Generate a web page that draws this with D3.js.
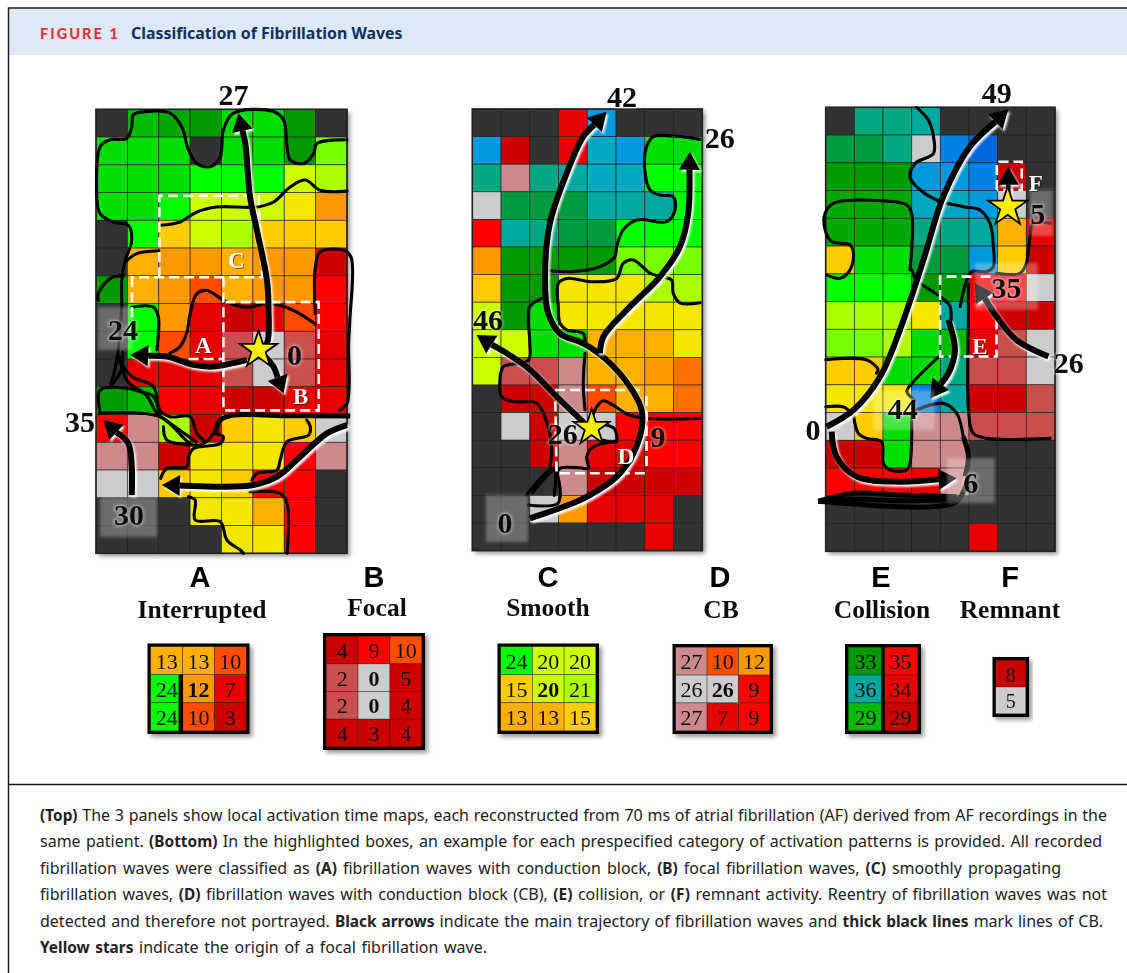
<!DOCTYPE html>
<html><head><meta charset="utf-8">
<script src="https://cdn.jsdelivr.net/npm/d3@7/dist/d3.min.js"></script>
<style>html,body{margin:0;padding:0;background:#fff;overflow:hidden}svg{display:block}</style>
</head><body><svg id="c" width="1127" height="973"></svg>
<script>
const palette={k:"#333333",w:"#cccccc",p:"#cc8a8c",q:"#c95050",r:"#cc0000",e:"#e60000",R:"#ff0000",o:"#ff4d00",x:"#ff7000",O:"#ff9900",a:"#ffb000",y:"#ffcc00",Y:"#f5e600",l:"#ccff00",m:"#aaff00",n:"#77ff00",L:"#00ff00",G:"#00dd00",g:"#00bb00",h:"#00a800",d:"#009900",f:"#009a40",t:"#00a880",c:"#00a8a0",s:"#00a8c0",b:"#0099dd",B:"#0080e0",u:"#0066dd"};

// ---- activation maps: colour class per electrode
const map1Cells=["k g h d G G d k","G G G k G G d n","G G G L L L l m","G G L l l l Y O","k L y l m y y y","k a O O a O O r","d a O o a O O R","k L O e r e o R","k L o e q w q e","k e e e q w q e","d g R e r r e e","R p m r y Y y w","p p r Y Y Y R p","w w y Y y R R k","k k k Y Y a R k","k k k k Y Y R k"];
const map2Cells=["k k k e b k k k","b r k e s b G G","t p t c s s L L","w f f f c c c L","R c t f f L L L","O d d d d n n n","y d d Y Y Y m m","l d G Y Y Y Y Y","l l G G a a a Y","l q q p a a O x","k r r p o a a x","k w r w w R R R","k k r p e e R R","k k k p r r r r","k k w O e e e k","k k k k k k e k"];
const map3Cells=["k t t c k k k k","f f t w B u k k","d d d b b B r k","h h h s s b w k","h h h t t c a e","y G G f f b y r","L L L d d e R w","m m m Y c R r r","n n m G g e q w","y y G G t q q w","Y Y Y B c r r q","w y G p p q q q","r r G p p k k k","R R R e p k k k","k k k k k k k k","k k k k k e k k"];

// ---- conduction block lines, in electrode units [column,row]
const map1Lines=[
[[.02,2.8],[.13,1.35],[.45,1.1],[.98,1.05],[1.14,.63],[1.19,.2],[1.62,.08],[2.36,.14],[2.73,.63],[2.95,1.47],[3.21,1.95],[3.64,2.07],[3.96,1.71],[4.06,.75],[4.38,.14],[5.66,.08],[5.98,.39],[6.09,1.35],[6.19,1.83],[6.62,1.95],[6.94,1.59],[7.04,1.23],[8,1.1]],
[[.02,2.8],[.13,3.76],[.55,4.06],[1.03,4.18],[1.14,4.72],[.93,5.45],[.82,6.17],[.82,7.13],[.71,8.67],[.6,9.4],[.45,10]],
[[.07,6.9],[.07,6.65],[.45,6.1],[.87,6]],
[[2.04,4.18],[2.68,4.06],[3.21,3.7],[3.85,3.52],[5.13,3.52],[5.66,3.34],[6.19,2.8],[6.67,2.55],[7.15,2.92],[8,2.95]],
[[.98,5.45],[1.3,5.2],[2,5.1]],
[[6.99,7.37],[6.99,5.69],[7.15,5.14],[7.89,5.08],[8.13,5.33],[8.09,7.6],[8.05,8.43],[8,10.6],[7.75,10.85]],
[[2.36,8.79],[2.68,8.55],[2.89,8.07],[3,7.37],[3.21,6.65],[3.53,6.53],[4.17,6.95],[4.81,7.13],[5.55,7],[6.3,7.25],[7,7.75]],
[[1.14,7.13],[1.83,7.13],[1.99,7.5],[1.99,8.07],[1.94,8.67]],
[[6.72,11.2],[6.83,11.44],[6.78,11.74],[6.09,11.98],[5.87,12.64],[5.77,13],[5.13,13.12],[4.97,13.36]],
[[4.91,13.78],[5.87,13.84],[6.09,14.2],[6.09,16]],
[[2.95,13.96],[3.16,14.08],[3.16,14.8],[3.96,14.86],[4.17,15.52],[4.6,15.88],[4.7,16]],
[[2.06,13.3],[2.26,12.94],[2.89,12.88],[2.95,12.52],[3.1,12.23],[3.96,12.04],[4.06,11.8],[3.8,11.68]],
[[.13,10.95],[2.04,11.08],[3.1,12.1],[3.53,11.97],[3.96,11.2]],
[[.13,10.95],[.13,10.12],[.98,10.05],[1.4,10.17],[1.83,10.35],[2.04,11.08]],
[[.66,8.91],[1.14,9.63],[1.83,9.99],[2.04,10.84],[2.36,11.08],[3,11.08],[3.21,11.67],[3.48,11.97]],
[[.85,8.75],[.8,9.4],[.45,10]],
[[2.15,11.43],[2.26,11.92],[3.1,12.1]],
[[.75,8.9],[1,9.8],[1.6,10.3],[1.95,10.95],[2.6,11.5],[3.2,12]]
];
const map2Lines=[
[[7.92,1.1],[6.99,.98],[6.3,1],[6.06,1.37],[6,2.21],[6.18,2.93],[6.53,3.12],[6.99,3.18],[7.05,3.66],[6.76,4.08],[5.72,4.02],[5.25,4.38],[5.02,4.99],[4.96,5.35],[4.44,5.71],[3.51,5.89],[2.7,5.86]],
[[7.92,7.02],[7.22,7.02],[6.99,6.68],[6.93,6.2],[6.53,6.07],[6.18,5.95],[5.6,5.47],[5.25,5.59],[5.02,6.14],[4.21,6.26],[3.28,6.14],[2.99,6.32],[2.99,7.16],[3.05,7.76],[3.28,8],[3.86,8.13],[3.92,8.49]],
[[2.41,6.86],[2,7.16],[1.95,7.64],[2,8.49],[1.95,9.1],[1.08,9.34],[.96,9.82],[1.02,10.42],[1.43,10.6],[2.24,10.66],[2.6,11.39],[2.76,12.35],[2.7,12.96]],
[[3.92,8.85],[3.86,9.94],[3.92,10.9]],
[[4.09,11.39],[4.32,10.8],[4.55,10.57],[4.9,10.73],[5.37,11.05],[6.06,11.21],[7.92,11.21]],
[[5.02,12.05],[4.21,12.24],[3.98,12.6],[4.03,13.02],[3.75,13],[3.05,13.02],[2.93,13.2]],
[[4.55,12],[5,12.05],[4.95,11.6],[4.65,11.45]],
[[1.89,13.99],[2.82,13.02],[2.99,14.27],[1.95,14.35]],
[[2.1,13.9],[2.85,13.1],[2.85,14]]
];
const map3Lines=[
[[3.17,0],[3.58,.46],[3.76,1.06],[3.76,1.66],[3.12,2.02],[2.94,2.5],[3.17,2.86],[3.87,3.34],[4.8,3.58],[5.38,3.7],[5.73,4.18],[5.85,5.02],[5.85,5.74],[5.62,5.92],[5.09,5.92],[4.92,6.22],[4.69,7.18]],
[[2.94,5.86],[3,3.82],[2.83,3.52],[2.36,3.4],[.27,3.46],[-.02,3.82],[-.02,4.42],[.21,4.84],[.85,4.96],[.97,5.26],[.85,5.86],[.5,6.16],[.03,6.04]],
[[3,5.86],[3.17,6.22],[3.99,6.82],[4.34,7.18],[4.34,8.02]],
[[3.93,9],[3.06,9.89],[2.83,10.24],[3.12,10.56]],
[[4.98,6.4],[4.98,7.3],[4.98,10.9],[5.15,11.75],[5.62,11.93],[7.83,11.93]],
[[5.97,5.98],[6.78,5.98],[7,5.62],[7.13,4.66],[7.24,4.18],[7.83,4.18]],
[[0,9.1],[1.42,9.1],[1.83,9.46],[1.77,9.58]],
[[0,10.79],[.6,10.79],[.79,10.91]],
[[.97,11.09],[1.14,11.75],[1.43,11.93],[1.95,12.05],[2.01,12.83],[2.24,13.07],[2.83,13.07],[2.94,12.83],[3,11.03]],
[[3.17,10.9],[4.1,10.67],[4.57,11.03],[4.8,11.87]]
];
const map1Thick=[[[3.8,11.68],[3.96,11.2],[4.38,11.02],[6,11.04],[8.1,11.05]]];
const map2Thick=[];
const map3Thick=[
[[4.8,11.87],[4.98,12.59],[4.86,13.3]],
[[-.26,14.2],[.97,13.91],[2.59,13.97],[4.57,14.03]],
[[-.26,14.2],[1.2,14.12],[2.6,14.18],[4.5,14.12]],
[[-.26,14.2],[2.36,14.39],[3.76,14.39],[4.57,14.21],[4.92,13.55]]
];

// ---- main wave trajectories, in electrode units, last point is the arrow tip
const map1Arrows=[
[[5.18,8.73],[5.45,8.43],[5.5,7.23],[5.45,6.17],[5.13,4.36],[4.91,3.16],[4.76,1.23],[4.54,.14]],
[[4.81,9.03],[3.74,9.27],[3.1,9.21],[2.26,8.91],[1.09,8.85]],
[[5.3,8.8],[5.66,9.28],[5.98,10.23]],
[[1.14,13.9],[1.14,12.88],[1.03,12.04],[.23,11.2]],
[[8,11.38],[7.36,11.68],[6.51,12.52],[5.77,13.24],[5.02,13.54],[3.85,13.6],[2.1,13.54]]
];
const map2Arrows=[
[[2,14.83],[3.98,14.05],[5.14,13.2],[5.83,11.87],[5.89,10.91],[5.48,10.06],[4.67,9.09],[3.86,8.49],[3.05,8.13],[2.64,7.4],[2.53,6.2],[2.7,4.14],[3.28,2.33],[3.86,1],[4.67,.1]],
[[4.44,8.85],[4.56,8.25],[5.37,7.28],[6.53,6.07],[7.22,4.99],[7.51,3.78],[7.57,1.55]],
[[4.09,11.57],[3.05,10.54],[1.89,9.34],[.15,8.19]]
];
const map3Arrows=[
[[.03,11.51],[.97,10.91],[1.9,9.7],[2.59,8.02],[3.41,5.5],[4.1,3.22],[5.03,1.42],[6.37,.07]],
[[.21,11.69],[.38,12.59],[1.08,13.31],[2.59,13.49],[4.57,13.37]],
[[4.28,7.66],[4.51,8.75],[4.28,9.59],[3.64,10.49]],
[[7.77,8.98],[6.66,8.39],[5.96,7.54],[5.21,6.34]],
[[6.37,3.58],[6.37,2.14]]
];

// ---- highlighted boxes (dashed), electrode units
const map1Boxes=[
[[2.02,6.05],[2.02,3.12],[5.18,3.12],[5.3,6.05],[1.1,6.05]],
[[1.15,6.05],[1.15,7.6]],
[[4.06,6.05],[4.06,10.85],[7.1,10.85],[7.1,6.95],[4.06,6.95]],
[[2.95,9],[4.06,9]]
];
const map2Boxes=[[[2.88,10.18],[6,10.18]],[[6.06,10.4],[6.06,13.1]],[[6,13.2],[2.93,13.2],[2.88,10.18]]];
const map3Boxes=[[[5.09,6.1],[3.99,6.1],[3.99,8.98],[5.96,8.98],[5.96,7.5]],[[5.4,6.1],[5.9,6.1]],[[5.97,2.98],[5.97,1.96],[6.84,1.96],[6.84,2.98],[5.97,2.98]]];

// ---- soft recording markers, [c0,r0,c1,r1]
const map1Marks=[[.06,7.12,1.15,8.67],[.13,13.97,1.95,15.41]];
const map2Marks=[[.47,13.99,1.94,15.69]];
const map3Marks=[[4.23,12.64,5.9,14.26],[1.65,10.19,3.81,11.63],[7.12,2.98,7.92,4.64],[5.2,5.61,7.4,7.3]];

// ---- stars and numeric labels
const map1Stars=[[5.18,8.67]];
const map2Stars=[[4.15,11.55]];
const map3Stars=[[6.35,3.59]];
const map1Labels=[["27",4.38,-.5],["24",.86,7.95],["0",6.33,8.85],["35",-.51,11.27],["30",1.05,14.62]];
const map2Labels=[["42",5.21,-.43],["26",8.61,1.05],["46",.55,7.64],["26",3.15,11.78],["9",6.46,11.88],["0",1.14,15]];
const map3Labels=[["49",5.97,-.52],["5",7.4,3.86],["35",6.31,6.51],["26",8.48,9.21],["44",2.69,10.87],["0",-.44,11.63],["6",5.06,13.54]];
const map1Letters=[["A",3.42,8.46],["B",6.52,10.3],["C",4.47,5.43]];
const map2Letters=[["D",5.35,12.57]];
const map3Letters=[["F",7.33,2.72],["E",5.38,8.57]];

// ---- category boxes
const catLetters=["A","B","C","D","E","F"];
const catNames=["Interrupted","Focal","Smooth","CB","Collision","Remnant"];
const catValues=[
[[13,13,10],[24,12,7],[24,10,3]],
[[4,9,10],[2,0,5],[2,0,4],[4,3,4]],
[[24,20,20],[15,20,21],[13,13,15]],
[[27,10,12],[26,26,9],[27,7,9]],
[[33,35],[36,34],[29,29]],
[[8],[5]]];
const catColors=[
["a a o","L O e","L o r"],
["r R o","q w r","q w r","r r r"],
["L l l","y l m","a a y"],
["p o O","w w R","p e R"],
["d R","c e","g r"],
["r","w"]];

// ---- text
const headerTag="FIGURE 1";
const headerTitle="Classification of Fibrillation Waves";
const captionLines=[
[["(Top)",1],[" The 3 panels show local activation time maps, each reconstructed from 70 ms of atrial fibrillation (AF) derived from AF recordings in the",0]],
[["same patient. ",0],["(Bottom)",1],[" In the highlighted boxes, an example for each prespecified category of activation patterns is provided. All recorded",0]],
[["fibrillation waves were classified as ",0],["(A)",1],[" fibrillation waves with conduction block, ",0],["(B)",1],[" focal fibrillation waves, ",0],["(C)",1],[" smoothly propagating",0]],
[["fibrillation waves, ",0],["(D)",1],[" fibrillation waves with conduction block (CB), ",0],["(E)",1],[" collision, or ",0],["(F)",1],[" remnant activity. Reentry of fibrillation waves was not",0]],
[["detected and therefore not portrayed. ",0],["Black arrows",1],[" indicate the main trajectory of fibrillation waves and ",0],["thick black lines",1],[" mark lines of CB.",0]],
[["Yellow stars",1],[" indicate the origin of a focal fibrillation wave.",0]]];
const captionEnds=[1107,1102,1061,1107,1103,487];

const svg=d3.select("#c");
const defs=svg.append("defs");
const f1=defs.append("filter").attr("id","shadow").attr("x","-5%").attr("y","-5%").attr("width","115%").attr("height","115%");
f1.append("feDropShadow").attr("dx",3).attr("dy",3).attr("stdDeviation",2).attr("flood-color","#000").attr("flood-opacity",.4);
defs.append("filter").attr("id","soft").append("feGaussianBlur").attr("stdDeviation",.45);
defs.append("filter").attr("id","glow").attr("filterUnits","userSpaceOnUse").attr("x",0).attr("y",0).attr("width",1127).attr("height",973).append("feGaussianBlur").attr("stdDeviation",1.2);
defs.append("filter").attr("id","fade").attr("x","-20%").attr("y","-20%").attr("width","140%").attr("height","140%").append("feGaussianBlur").attr("stdDeviation",1.5);

// frame
svg.append("rect").attr("x",8).attr("y",9).attr("width",1119).attr("height",46).attr("fill","#dde9f5");
svg.append("path").attr("d","M1127 8H8.5V973M8 784.5H1127").attr("fill","none").attr("stroke","#1a1a1a").attr("stroke-width",1.4);
svg.append("text").attr("x",40).attr("y",38.5).attr("font-family","Lato").attr("font-weight",900).attr("font-size",14.5).attr("letter-spacing",2.05).attr("fill","#e8313a").text(headerTag);
svg.append("text").attr("x",131).attr("y",38.5).attr("font-family","Noto Sans").attr("font-weight",700).attr("font-size",15.9).attr("fill","#0b3263").text(headerTitle);

const lineGen=d3.line().curve(d3.curveCatmullRom.alpha(.5));
function drawMap(conf){
  const gg=svg.append("g").attr("filter","url(#soft)");
  const x=d3.scaleLinear().domain([0,8]).range(conf.xr), y=d3.scaleLinear().domain([0,16]).range(conf.yr);
  const pt=p=>[x(p[0]),y(p[1])];
  const rows=conf.cells.map(s=>s.split(" "));
  gg.append("rect").attr("x",x(0)).attr("y",y(0)).attr("width",x(8)-x(0)).attr("height",y(16)-y(0)).attr("fill","#333").attr("filter","url(#shadow)");
  rows.forEach((row,r)=>row.forEach((k,c)=>{
    gg.append("rect").attr("x",x(c)).attr("y",y(r)).attr("width",x(c+1)-x(c)).attr("height",y(r+1)-y(r)).attr("fill",palette[k]).attr("stroke","#222").attr("stroke-opacity",.75).attr("stroke-width",.8);
  }));
  gg.append("rect").attr("x",x(0)).attr("y",y(0)).attr("width",x(8)-x(0)).attr("height",y(16)-y(0)).attr("fill","none").attr("stroke","#222").attr("stroke-width",1.6);
  conf.lines.forEach(l=>gg.append("path").attr("d",lineGen(l.map(pt))).attr("fill","none").attr("stroke","#000").attr("stroke-width",3.1).attr("stroke-linecap","round"));
  conf.thick.forEach(l=>gg.append("path").attr("d",lineGen(l.map(pt))).attr("fill","none").attr("stroke","#000").attr("stroke-width",5).attr("stroke-linecap","butt"));
  conf.boxes.forEach(l=>gg.append("path").attr("d",d3.line()(l.map(pt))).attr("fill","none").attr("stroke","#fff").attr("stroke-width",2.6).attr("stroke-dasharray","10 5"));
  // arrows
  conf.arrows.forEach((a,i)=>{
    const pts=a.map(pt), n=pts.length, tip=pts[n-1], prev=pts[n-2];
    const dx=tip[0]-prev[0], dy=tip[1]-prev[1], len=Math.hypot(dx,dy), ux=dx/len, uy=dy/len;
    const hl=Math.min(18,len*.6), hw=Math.min(10.5,hl*.62);
    const base=[tip[0]-ux*hl,tip[1]-uy*hl];
    const shaft=pts.slice(0,n-1).concat([base]);
    const head=[tip,[base[0]-uy*hw,base[1]+ux*hw],[base[0]+uy*hw,base[1]-ux*hw]];
    const lw=n<=2?4.5:6;
    gg.append("path").attr("d",lineGen(shaft)).attr("transform","translate(1.8,2.2)").attr("fill","none").attr("stroke","#fff").attr("stroke-width",lw).attr("filter","url(#glow)");
    gg.append("path").attr("d",d3.line()(head)+"Z").attr("transform","translate(1.8,2.2)").attr("fill","#fff").attr("filter","url(#glow)");
    gg.append("path").attr("d",lineGen(shaft)).attr("fill","none").attr("stroke","#000").attr("stroke-width",lw);
    gg.append("path").attr("d",d3.line()(head)+"Z").attr("fill","#000");
  });
  conf.marks.forEach(m=>gg.append("rect").attr("x",x(m[0])).attr("y",y(m[1])).attr("width",x(m[2])-x(m[0])).attr("height",y(m[3])-y(m[1])).attr("fill","#fff").attr("fill-opacity",.28).attr("filter","url(#fade)"));
  const star=d3.symbol().type(d3.symbolStar).size(conf.starSize);
  conf.stars.forEach(s=>gg.append("path").attr("d",star()).attr("transform",`translate(${x(s[0])},${y(s[1])})`).attr("fill","#ffee00").attr("stroke","#000").attr("stroke-width",1.8).attr("stroke-linejoin","miter"));
  // labels
  conf.labels.forEach(t=>{
    gg.append("text").attr("x",x(t[1])).attr("y",y(t[2])+10).attr("text-anchor","middle").attr("font-family","Liberation Serif").attr("font-weight",700).attr("font-size",30).attr("fill","none").attr("stroke","#fff").attr("stroke-width",2).attr("stroke-opacity",.55).attr("filter","url(#fade)").text(t[0]);
    gg.append("text").attr("x",x(t[1])).attr("y",y(t[2])+10).attr("text-anchor","middle").attr("font-family","Liberation Serif").attr("font-weight",700).attr("font-size",30).attr("fill","#0c0c0c").text(t[0]);
  });
  conf.letters.forEach(t=>{
    gg.append("text").attr("x",x(t[1])+1).attr("y",y(t[2])+9.5).attr("text-anchor","middle").attr("font-family","Liberation Serif").attr("font-weight",700).attr("font-size",23).attr("fill","#000").attr("fill-opacity",.5).text(t[0]);
    gg.append("text").attr("x",x(t[1])).attr("y",y(t[2])+8.5).attr("text-anchor","middle").attr("font-family","Liberation Serif").attr("font-weight",700).attr("font-size",23).attr("fill","#fff").text(t[0]);
  });
}
drawMap({xr:[96,347],yr:[109.3,553.3],cells:map1Cells,lines:map1Lines,thick:map1Thick,arrows:map1Arrows,boxes:map1Boxes,marks:map1Marks,stars:map1Stars,labels:map1Labels,letters:map1Letters,starSize:430});
drawMap({xr:[472.3,702.3],yr:[109,550.6],cells:map2Cells,lines:map2Lines,thick:map2Thick,arrows:map2Arrows,boxes:map2Boxes,marks:map2Marks,stars:map2Stars,labels:map2Labels,letters:map2Letters,starSize:400});
drawMap({xr:[825.7,1055],yr:[107.3,551.3],cells:map3Cells,lines:map3Lines,thick:map3Thick,arrows:map3Arrows,boxes:map3Boxes,marks:map3Marks,stars:map3Stars,labels:map3Labels,letters:map3Letters,starSize:480});

// category boxes
const catLayout=[
 {cx:200,nameX:202,nameY:618,x0:147.5,x1:249.5,y0:643.5,y1:734},
 {cx:374,nameX:377,nameY:615.5,x0:323,x1:425,y0:633,y1:750},
 {cx:548,nameX:548,nameY:615.5,x0:497.5,x1:599,y0:643.5,y1:734},
 {cx:720,nameX:721,nameY:618,x0:672.5,x1:773,y0:644,y1:734},
 {cx:881,nameX:882,nameY:618,x0:845,x1:921,y0:644,y1:734},
 {cx:1010,nameX:1010,nameY:618,x0:992.5,x1:1029,y0:657,y1:717}];
catLetters.forEach((L,i)=>{
  const lay=catLayout[i], vals=catValues[i], cols=catColors[i].map(s=>s.split(" "));
  const g=svg.append("g").attr("filter","url(#soft)");
  g.append("text").attr("x",lay.cx).attr("y",587).attr("text-anchor","middle").attr("font-family","Liberation Sans").attr("font-weight",700).attr("font-size",29).attr("fill","#000").text(L);
  g.append("text").attr("x",lay.nameX).attr("y",lay.nameY).attr("text-anchor","middle").attr("font-family","Liberation Serif").attr("font-weight",700).attr("font-size",25.5).attr("fill","#111").text(catNames[i]);
  const b=3.2;
  const x=d3.scaleLinear().domain([0,vals[0].length]).range([lay.x0+b,lay.x1-b]);
  const y=d3.scaleLinear().domain([0,vals.length]).range([lay.y0+b,lay.y1-b]);
  g.append("rect").attr("x",lay.x0).attr("y",lay.y0).attr("width",lay.x1-lay.x0).attr("height",lay.y1-lay.y0).attr("fill","#000").attr("filter","url(#shadow)");
  const fs=i==5?20:22;
  vals.forEach((row,r)=>row.forEach((v,c)=>{
    g.append("rect").attr("x",x(c)).attr("y",y(r)).attr("width",x(c+1)-x(c)).attr("height",y(r+1)-y(r)).attr("fill",palette[cols[r][c]]).attr("stroke","#222").attr("stroke-opacity",.6).attr("stroke-width",.6);
    const bold=(i==0&&r==1&&c==1)||(i==1&&c==1&&(r==1||r==2))||(i==2&&r==1&&c==1)||(i==3&&r==1&&c==1);
    g.append("text").attr("x",(x(c)+x(c+1))/2).attr("y",(y(r)+y(r+1))/2+8).attr("text-anchor","middle").attr("font-family","Liberation Serif").attr("font-weight",bold?700:400).attr("font-size",fs).attr("fill","#111").text(v);
  }));
  if(i==0) g.append("rect").attr("x",x(1)-4).attr("y",y(1)).attr("width",4.5).attr("height",y(3)-y(1)).attr("fill","#000");
  if(i==4) g.append("rect").attr("x",x(1)-1.8).attr("y",y(0)).attr("width",3.6).attr("height",y(3)-y(0)).attr("fill","#000");
});

// caption, each line set to the measure of the original
const capY=d3.scaleLinear().domain([0,5]).range([821,953]);
captionLines.forEach((segs,i)=>{
  const t=svg.append("text").attr("x",40).attr("y",capY(i)).attr("font-family","Noto Sans").attr("font-size",16).attr("fill","#222");
  segs.forEach(s=>t.append("tspan").attr("font-weight",s[1]?700:400).attr("font-size",s[1]?15.4:16).style("white-space","pre").text(s[0]));
  const text=segs.map(s=>s[0]).join(""), spaces=text.split(" ").length-1;
  const w=t.node().getComputedTextLength();
  t.attr("word-spacing",(captionEnds[i]-40-w)/spaces);
});
</script></body></html>
